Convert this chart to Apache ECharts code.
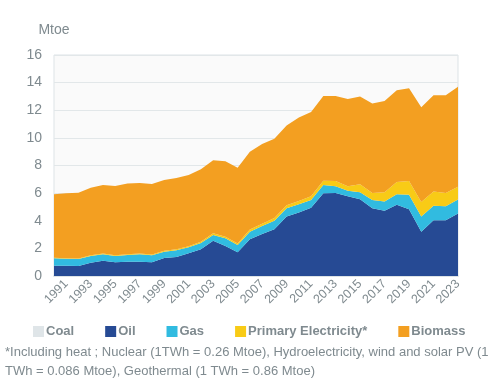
<!DOCTYPE html>
<html>
<head>
<meta charset="utf-8">
<script src="https://cdn.jsdelivr.net/npm/echarts@6/dist/echarts.min.js"></script>
<style>html,body{margin:0;padding:0;background:#fff}#c{width:493px;height:384px}</style>
</head>
<body>
<div id="c"></div>
<script>
const years = ['1990','1991','1992','1993','1994','1995','1996','1997','1998','1999','2000','2001','2002','2003','2004','2005','2006','2007','2008','2009','2010','2011','2012','2013','2014','2015','2016','2017','2018','2019','2020','2021','2022','2023'];
const coal = [0,0,0,0,0,0,0,0,0,0,0,0,0,0,0,0,0,0,0,0,0,0,0,0,0,0,0,0,0,0,0,0,0,0];
const oil = [0.75,0.75,0.72,0.96,1.11,0.99,1.04,1.04,0.99,1.30,1.38,1.64,1.93,2.56,2.17,1.72,2.66,3.04,3.38,4.30,4.59,4.95,5.99,6.01,5.77,5.55,4.90,4.73,5.16,4.84,3.21,4.04,4.04,4.52];
const gas = [0.53,0.50,0.51,0.49,0.46,0.46,0.48,0.53,0.51,0.46,0.48,0.44,0.46,0.41,0.56,0.52,0.55,0.58,0.62,0.60,0.60,0.55,0.60,0.49,0.40,0.52,0.60,0.67,0.75,1.05,1.09,1.04,1.01,1.01];
const primaryElectricity = [0.04,0.04,0.04,0.05,0.05,0.05,0.05,0.05,0.05,0.06,0.07,0.08,0.09,0.12,0.12,0.12,0.15,0.17,0.20,0.22,0.24,0.27,0.31,0.37,0.33,0.57,0.51,0.67,0.90,0.99,1.05,1.04,0.96,0.94];
const biomass = [4.60,4.70,4.76,4.89,4.97,5.02,5.12,5.11,5.11,5.13,5.17,5.15,5.24,5.29,5.45,5.48,5.64,5.77,5.74,5.77,6.04,6.11,6.13,6.16,6.32,6.36,6.47,6.60,6.64,6.71,6.86,6.96,7.07,7.24];
const yTicks = {min: 0, max: 16, interval: 2};
const footLine1 = '*Including heat ; Nuclear (1TWh = 0.26 Mtoe), Hydroelectricity, wind and solar PV (1';
const footLine2 = 'TWh = 0.086 Mtoe), Geothermal (1 TWh = 0.86 Mtoe)';

const gray = '#7f8a8f';
function areaSeries(name, data, color) {
  return {name, type: 'line', stack: 'total', data, symbol: 'none', showSymbol: false,
    lineStyle: {width: 0}, areaStyle: {color, opacity: 1}, itemStyle: {color}, emphasis: {disabled: true}};
}
const chart = echarts.init(document.getElementById('c'), null, {renderer: 'canvas'});
chart.setOption({
  animation: false,
  textStyle: {fontFamily: 'Liberation Sans'},
  grid: {left: 54, right: 35, top: 55, bottom: 108, show: true, backgroundColor: '#fafafa', borderColor: '#dde3e6', borderWidth: 1},
  legend: {
    left: 28, top: 320, width: 465, itemWidth: 11, itemHeight: 11, icon: 'rect', itemGap: 31,
    textStyle: {color: gray, fontSize: 13, fontWeight: 'bold', fontFamily: 'Liberation Sans', padding: [0, 0, 0, -3]},
    data: ['Coal', 'Oil', 'Gas', 'Primary Electricity*', 'Biomass']
  },
  xAxis: {
    type: 'category', data: years, boundaryGap: false,
    axisLine: {lineStyle: {color: '#dde3e6', width: 2}},
    axisTick: {show: false},
    axisLabel: {interval: (i) => i % 2 === 1, rotate: 45, color: gray, fontSize: 12.5, margin: 6}
  },
  yAxis: {
    type: 'value', min: yTicks.min, max: yTicks.max, interval: yTicks.interval,
    name: 'Mtoe', nameGap: 18, nameTextStyle: {color: gray, fontSize: 14},
    axisLine: {show: false}, axisTick: {show: false},
    axisLabel: {color: gray, fontSize: 14, margin: 12},
    splitLine: {lineStyle: {color: '#e2e7e9', width: 1}}
  },
  graphic: [
    {type: 'text', left: 5, top: 346, style: {text: footLine1, fill: gray, fontSize: 13, fontFamily: 'Liberation Sans'}},
    {type: 'text', left: 5, top: 365, style: {text: footLine2, fill: gray, fontSize: 13, fontFamily: 'Liberation Sans'}}
  ],
  series: [
    areaSeries('Coal', coal, '#dfe5e8'),
    areaSeries('Oil', oil, '#264a94'),
    areaSeries('Gas', gas, '#31bbe0'),
    areaSeries('Primary Electricity*', primaryElectricity, '#f8cb16'),
    areaSeries('Biomass', biomass, '#f39f21')
  ]
});
</script>
</body>
</html>
